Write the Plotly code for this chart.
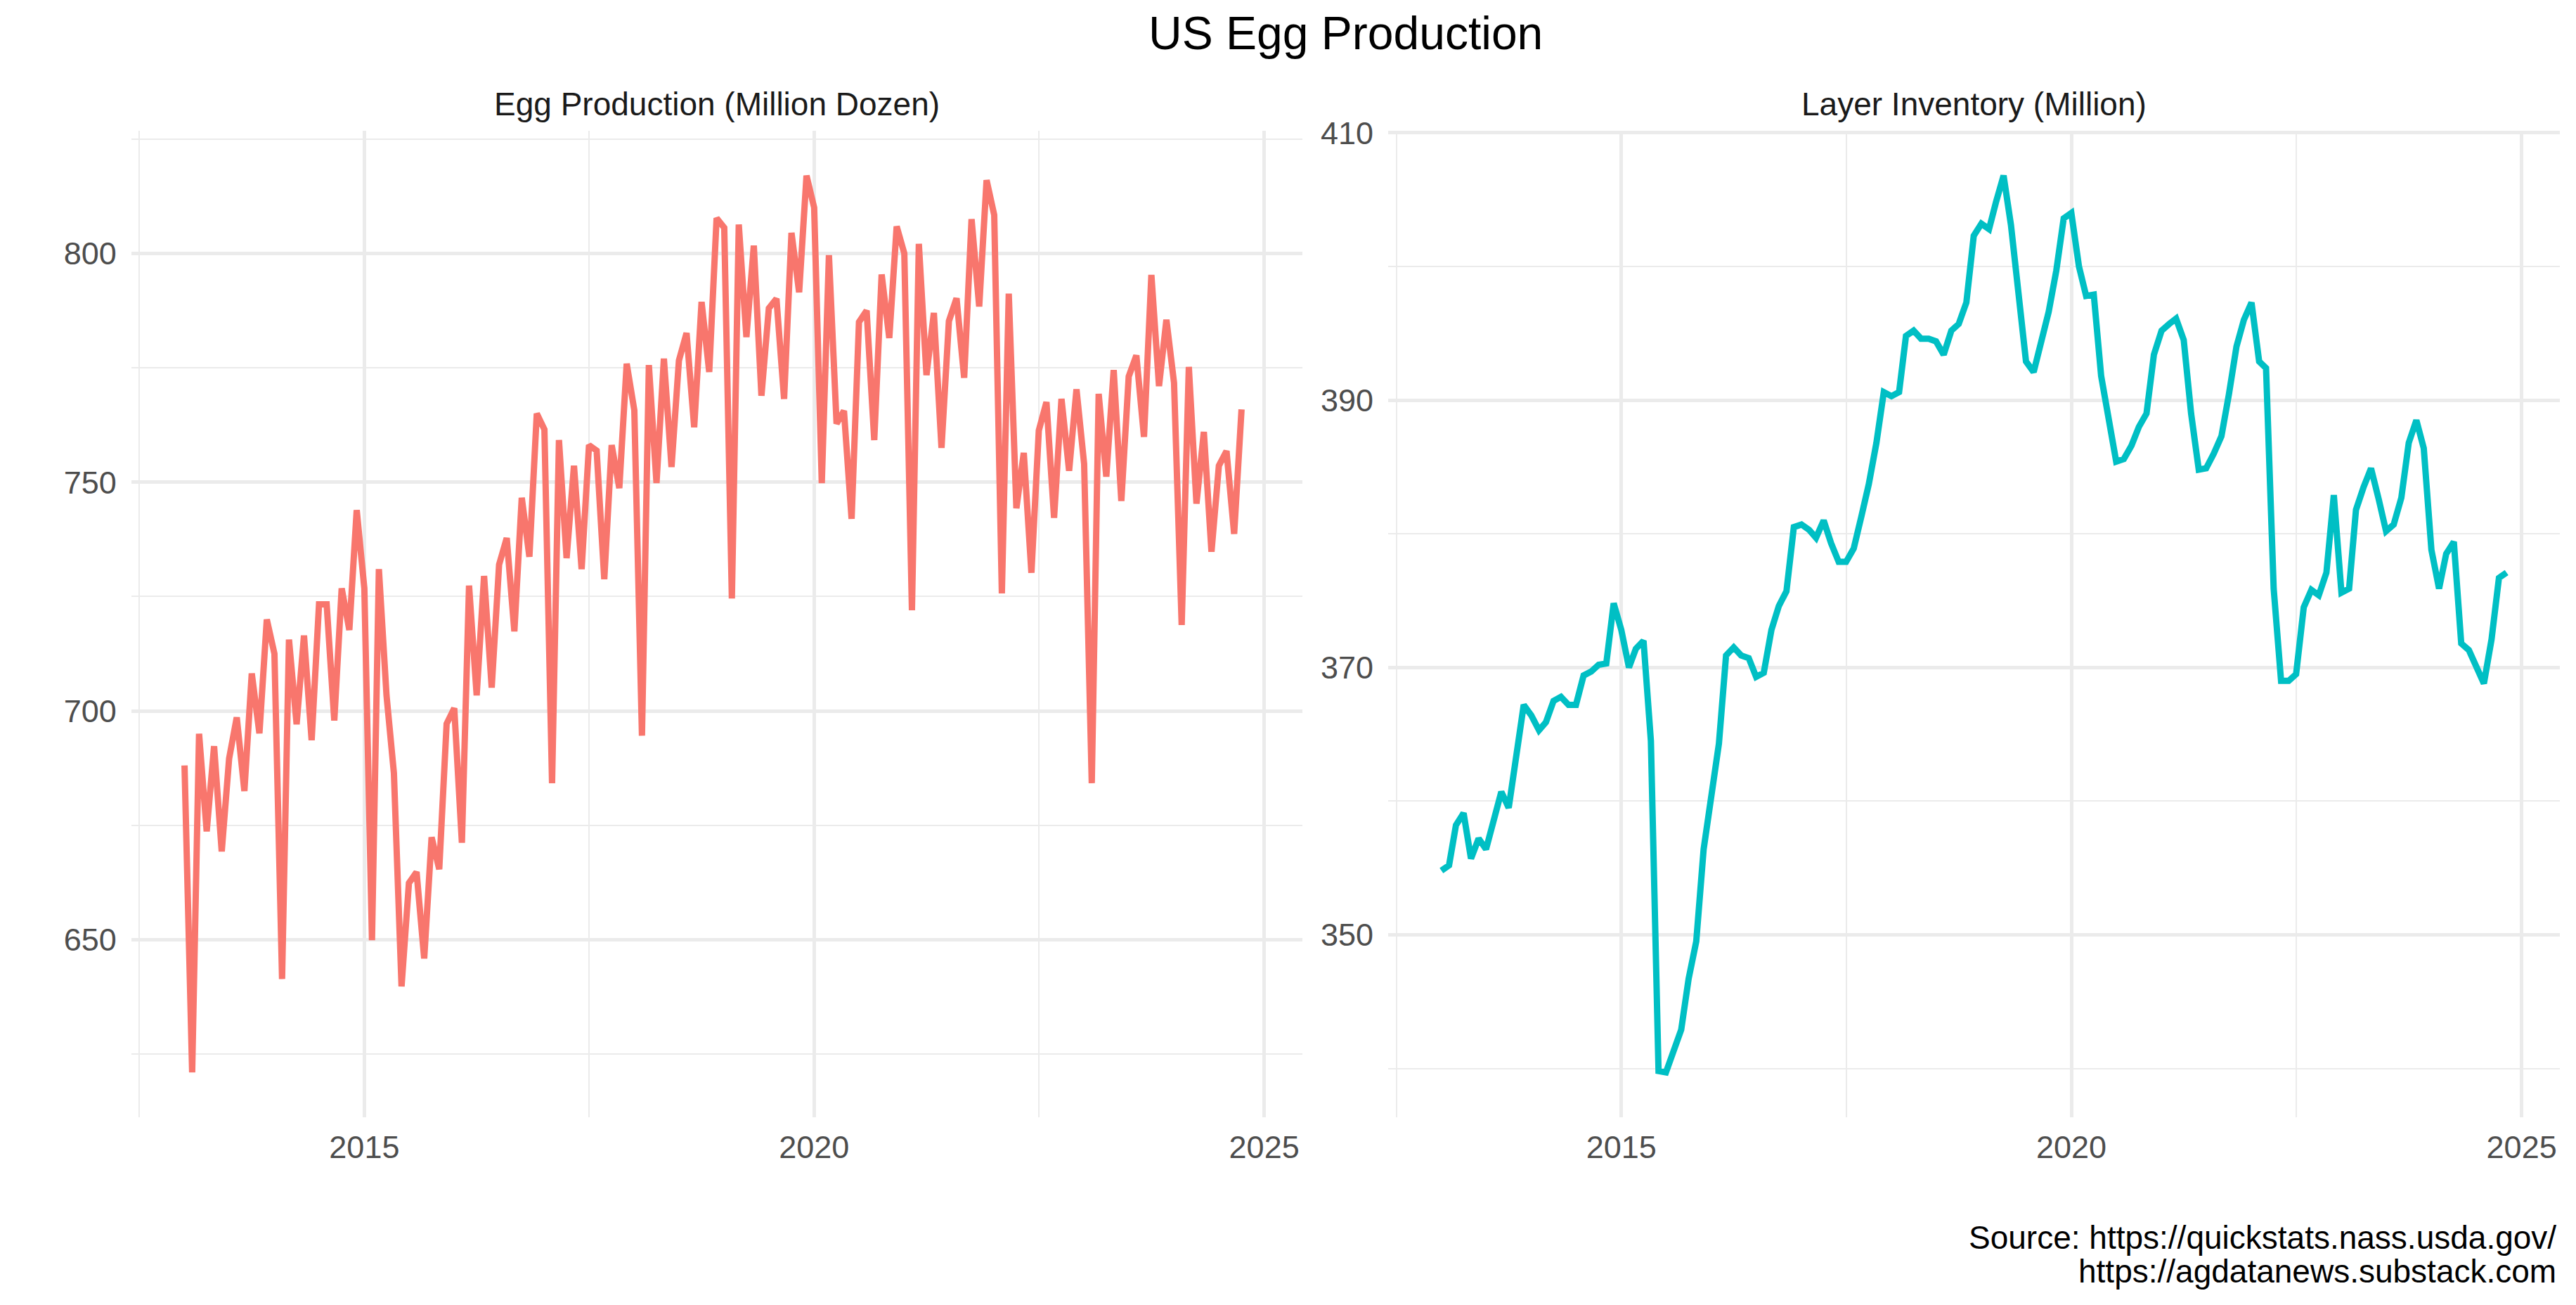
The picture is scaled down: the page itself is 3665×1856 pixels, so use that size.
import plotly.graph_objects as go
import pandas as pd

# ---------------- data (monthly, starting Jan 2013) ----------------
start_month = "2013-01-01"

egg_production = [
    688.1, 621.0, 695.0, 673.7, 692.3, 669.3, 689.6, 698.6, 682.5, 708.2, 695.1, 720.0,   # 2013
    712.5, 641.4, 715.6, 697.1, 716.5, 693.6, 723.3, 723.3, 697.9, 726.8, 717.7, 743.9,   # 2014
    726.8, 649.9, 731.0, 703.4, 686.4, 639.8, 662.4, 664.8, 645.9, 672.4, 665.4, 697.2,   # 2015
    700.6, 671.2, 727.4, 703.4, 729.5, 705.1, 732.0, 737.8, 717.4, 746.6, 733.7, 765.0,   # 2016
    761.5, 684.2, 759.2, 733.4, 753.6, 731.0, 758.1, 756.9, 728.8, 758.1, 748.7, 775.9,   # 2017
    765.7, 694.6, 775.6, 749.8, 777.0, 753.3, 776.6, 782.6, 762.0, 789.4, 774.1, 807.7,   # 2018
    805.6, 724.6, 806.3, 781.7, 801.7, 768.9, 788.0, 790.1, 768.2, 804.5, 791.5, 817.0,   # 2019
    810.0, 749.8, 799.6, 762.8, 765.6, 742.0, 785.0, 787.5, 759.2, 795.4, 781.5, 805.9,   # 2020
    800.0, 722.0, 802.1, 773.4, 787.0, 757.5, 785.2, 790.2, 772.8, 807.5, 788.4, 816.0,   # 2021
    808.4, 725.7, 791.2, 744.3, 756.4, 730.2, 761.3, 767.5, 742.2, 768.2, 752.5, 770.3,   # 2022
    754.0, 684.2, 769.3, 751.2, 774.5, 745.9, 773.1, 777.7, 759.9, 795.3, 771.0, 785.5,   # 2023
    771.7, 718.8, 775.2, 745.3, 761.0, 734.8, 753.6, 756.8, 738.7, 765.9,                 # 2024
]

layer_inventory = [
    354.8, 355.2, 358.2, 359.1, 355.7, 357.2, 356.4, 358.5, 360.7, 359.5, 363.1, 367.2,   # 2013
    366.4, 365.3, 365.9, 367.5, 367.8, 367.2, 367.2, 369.4, 369.7, 370.2, 370.3, 374.8,   # 2014
    372.8, 370.0, 371.4, 372.0, 364.5, 339.8, 339.7, 341.4, 342.9, 346.7, 349.5, 356.4,   # 2015
    360.7, 364.3, 370.9, 371.5, 370.9, 370.7, 369.3, 369.6, 372.8, 374.6, 375.7, 380.5,   # 2016
    380.7, 380.3, 379.7, 381.0, 379.3, 377.9, 377.9, 378.9, 381.3, 383.7, 386.8, 390.6,   # 2017
    390.3, 390.6, 394.8, 395.2, 394.6, 394.6, 394.4, 393.4, 395.2, 395.7, 397.3, 402.3,   # 2018
    403.2, 402.8, 404.8, 406.8, 403.1, 397.8, 392.9, 392.1, 394.2, 396.6, 399.7, 403.6,   # 2019
    404.0, 400.0, 397.8, 397.9, 391.8, 388.7, 385.4, 385.6, 386.6, 388.0, 389.0, 393.4,   # 2020
    395.2, 395.7, 396.1, 394.5, 389.0, 384.8, 384.9, 386.0, 387.3, 390.4, 394.0, 396.0,   # 2021
    397.3, 392.9, 392.4, 375.9, 369.0, 369.0, 369.5, 374.5, 375.8, 375.4, 377.1, 382.9,   # 2022
    375.6, 375.9, 381.8, 383.5, 384.9, 382.6, 380.2, 380.7, 382.7, 386.8, 388.5, 386.4,   # 2023
    378.8, 375.9, 378.5, 379.4, 371.8, 371.3, 370.2, 368.8, 372.1, 376.7, 377.1,          # 2024
]

x_major_ticks = ["2015-01-01", "2020-01-01", "2025-01-01"]
x_major_labels = ["2015", "2020", "2025"]
x_minor_ticks = ["2012-07-02", "2017-07-02", "2022-07-02"]

prod_major_ticks = [650, 700, 750, 800]
prod_minor_ticks = [625, 675, 725, 775, 825]
inv_major_ticks = [350, 370, 390, 410]
inv_minor_ticks = [340, 360, 380, 400]

title_text = "US Egg Production"
panel_titles = ["Egg Production (Million Dozen)", "Layer Inventory (Million)"]
caption_lines = ["Source: https://quickstats.nass.usda.gov/", "https://agdatanews.substack.com"]

# ---------------- helpers ----------------
months_prod = pd.date_range(start_month, periods=len(egg_production), freq="MS")
months_inv = pd.date_range(start_month, periods=len(layer_inventory), freq="MS")


def expand(lo, hi, f=0.05):
    span = hi - lo
    return [lo - span * f, hi + span * f]


x_lo = min(months_prod[0], months_inv[0])
x_hi = max(months_prod[-1], months_inv[-1])
x_range = [d.strftime("%Y-%m-%d %H:%M") for d in expand(x_lo, x_hi)]
prod_range = expand(min(egg_production), max(egg_production))
inv_range = expand(min(layer_inventory), max(layer_inventory))

W, H = 3665, 1856
OFF = 8.0  # page body margin offset compensation (px)


def px_x(v):
    return (v - OFF) / W


def px_y(v):
    return (H - (v - OFF)) / H


FONT = "Liberation Sans, Arial, Helvetica, sans-serif"
GRID = "#EBEBEB"
MAJOR_W = 4.5
MINOR_W = 2.3
TICK_FONT = dict(family=FONT, size=45, color="#4D4D4D")

left_dom = [px_x(186.8), px_x(1853.0)]
right_dom = [px_x(1975.0), px_x(3642.0)]
y_dom = [px_y(1589.0), px_y(186.0)]

fig = go.Figure()
fig.add_trace(go.Scatter(x=months_prod, y=egg_production, mode="lines",
                         line=dict(color="#F8766D", width=9),
                         xaxis="x", yaxis="y", showlegend=False, hoverinfo="skip"))
fig.add_trace(go.Scatter(x=months_inv, y=layer_inventory, mode="lines",
                         line=dict(color="#00BFC4", width=9),
                         xaxis="x2", yaxis="y2", showlegend=False, hoverinfo="skip"))


def xaxis_cfg(domain, anchor):
    return dict(domain=domain, anchor=anchor, type="date", range=x_range,
                tickmode="array", tickvals=x_major_ticks, ticktext=x_major_labels,
                showgrid=True, gridcolor=GRID, gridwidth=MAJOR_W,
                minor=dict(tickmode="array", tickvals=x_minor_ticks, showgrid=True,
                           gridcolor=GRID, gridwidth=MINOR_W, ticks=""),
                zeroline=False, showline=False, ticks="", tickfont=TICK_FONT,
                ticklabelstandoff=12, automargin=False, fixedrange=True)


def yaxis_cfg(anchor, rng, major, minor):
    return dict(domain=y_dom, anchor=anchor, range=rng,
                tickmode="array", tickvals=major, ticktext=[str(v) for v in major],
                showgrid=True, gridcolor=GRID, gridwidth=MAJOR_W,
                minor=dict(tickmode="array", tickvals=minor, showgrid=True,
                           gridcolor=GRID, gridwidth=MINOR_W, ticks=""),
                zeroline=False, showline=False, ticks="", tickfont=TICK_FONT,
                ticklabelstandoff=20, automargin=False, fixedrange=True)


def note(text, x, y, size, color, xanchor="center"):
    return dict(text=text, x=x, y=y, xref="paper", yref="paper",
                xanchor=xanchor, yanchor="middle", showarrow=False,
                font=dict(family=FONT, size=size, color=color))


annotations = [
    note(title_text, (left_dom[0] + right_dom[1]) / 2, px_y(47.5), 66, "#000000"),
    note(panel_titles[0], sum(left_dom) / 2, px_y(147.5), 46, "#1A1A1A"),
    note(panel_titles[1], sum(right_dom) / 2, px_y(147.5), 46, "#1A1A1A"),
    note(caption_lines[0], px_x(3639.0), px_y(1759.5), 46, "#000000", "right"),
    note(caption_lines[1], px_x(3639.0), px_y(1808.0), 46, "#000000", "right"),
]

fig.update_layout(
    width=W, height=H,
    margin=dict(l=0, r=0, t=0, b=0, pad=0, autoexpand=False),
    paper_bgcolor="white", plot_bgcolor="white",
    font=dict(family=FONT),
    xaxis=xaxis_cfg(left_dom, "y"),
    yaxis=yaxis_cfg("x", prod_range, prod_major_ticks, prod_minor_ticks),
    xaxis2=xaxis_cfg(right_dom, "y2"),
    yaxis2=yaxis_cfg("x2", inv_range, inv_major_ticks, inv_minor_ticks),
    annotations=annotations,
    showlegend=False,
)

fig.write_html("out.html", config={"displayModeBar": False})
